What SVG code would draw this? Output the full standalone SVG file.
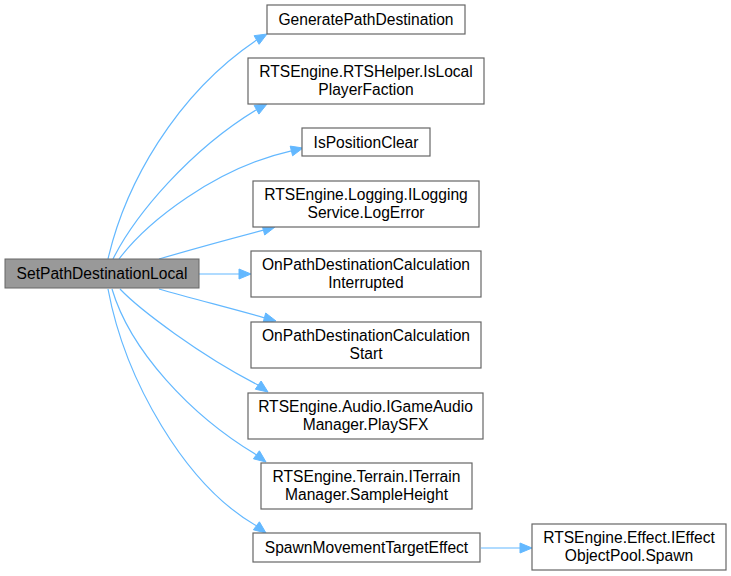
<svg xmlns="http://www.w3.org/2000/svg" width="731" height="576" viewBox="0 0 731 576">
<style>
.n rect{fill:#ffffff;stroke:#666666;stroke-width:1.2}
#main rect{fill:#999999;stroke:#666666}
text{font-family:"Liberation Sans",Arial,sans-serif;font-size:15.6px;fill:#000000;text-anchor:middle}
.e path{fill:none;stroke:#63b8ff;stroke-width:1.2}
.e polygon{fill:#63b8ff;stroke:#63b8ff;stroke-width:1}
</style>
<rect width="731" height="576" fill="#ffffff"/>
<g id="edges" class="e">
<path d="M108,259 C125,185 175,95 256.6,40"/>
<polygon points="267,34 259.1,44.3 254.1,35.7"/>
<path d="M113,259 C135,215 190,150 256.5,109.7"/>
<polygon points="267,104 258.9,114.1 254.1,105.3"/>
<path d="M119,259 C147,222 215,168 291.4,150.9"/>
<polygon points="303,148 292.6,155.8 290.2,146.1"/>
<path d="M159,259 C190,250 230,239 263.4,230.2"/>
<polygon points="275,227 264.7,235 262.1,225.4"/>
<path d="M199,274 L239,274"/>
<polygon points="251,274 239,279 239,269"/>
<path d="M159,289 C190,298 230,308 264.4,317.8"/>
<polygon points="276,321 263.1,322.6 265.7,313"/>
<path d="M120,289 C140,310 200,355 258.2,385.1"/>
<polygon points="268,392 255.3,389.2 261.1,381"/>
<path d="M112,289 C130,350 190,415 256.4,454.8"/>
<polygon points="266,462 253.4,458.8 259.4,450.8"/>
<path d="M108,289 C125,380 185,485 256.4,525.8"/>
<polygon points="266,533 253.4,529.8 259.4,521.8"/>
<path d="M481,548 L520,548"/>
<polygon points="532,548 520,553 520,543"/>
</g>
<g id="main"><rect x="5" y="259" width="194" height="29"/><text x="102" y="279">SetPathDestinationLocal</text></g>
<g id="n1" class="n"><rect x="267" y="5" width="198" height="29"/><text x="366" y="25">GeneratePathDestination</text></g>
<g id="n2" class="n"><rect x="248" y="58" width="236" height="46"/><text x="366" y="77">RTSEngine.RTSHelper.IsLocal</text><text x="366" y="95">PlayerFaction</text></g>
<g id="n3" class="n"><rect x="302" y="128" width="128" height="28"/><text x="366" y="148">IsPositionClear</text></g>
<g id="n4" class="n"><rect x="253" y="181" width="226" height="46"/><text x="366" y="200">RTSEngine.Logging.ILogging</text><text x="366" y="218">Service.LogError</text></g>
<g id="n5" class="n"><rect x="251" y="251" width="230" height="46"/><text x="366" y="270">OnPathDestinationCalculation</text><text x="366" y="288">Interrupted</text></g>
<g id="n6" class="n"><rect x="251" y="322" width="230" height="46"/><text x="366" y="341">OnPathDestinationCalculation</text><text x="366" y="359">Start</text></g>
<g id="n7" class="n"><rect x="248" y="393" width="235" height="46"/><text x="365.5" y="412">RTSEngine.Audio.IGameAudio</text><text x="365.5" y="430">Manager.PlaySFX</text></g>
<g id="n8" class="n"><rect x="261" y="463" width="211" height="46"/><text x="366.5" y="482">RTSEngine.Terrain.ITerrain</text><text x="366.5" y="500">Manager.SampleHeight</text></g>
<g id="n9" class="n"><rect x="253" y="533" width="227" height="29"/><text x="366.5" y="553">SpawnMovementTargetEffect</text></g>
<g id="n10" class="n"><rect x="532" y="524" width="194" height="46"/><text x="629" y="543">RTSEngine.Effect.IEffect</text><text x="629" y="561">ObjectPool.Spawn</text></g>
</svg>
